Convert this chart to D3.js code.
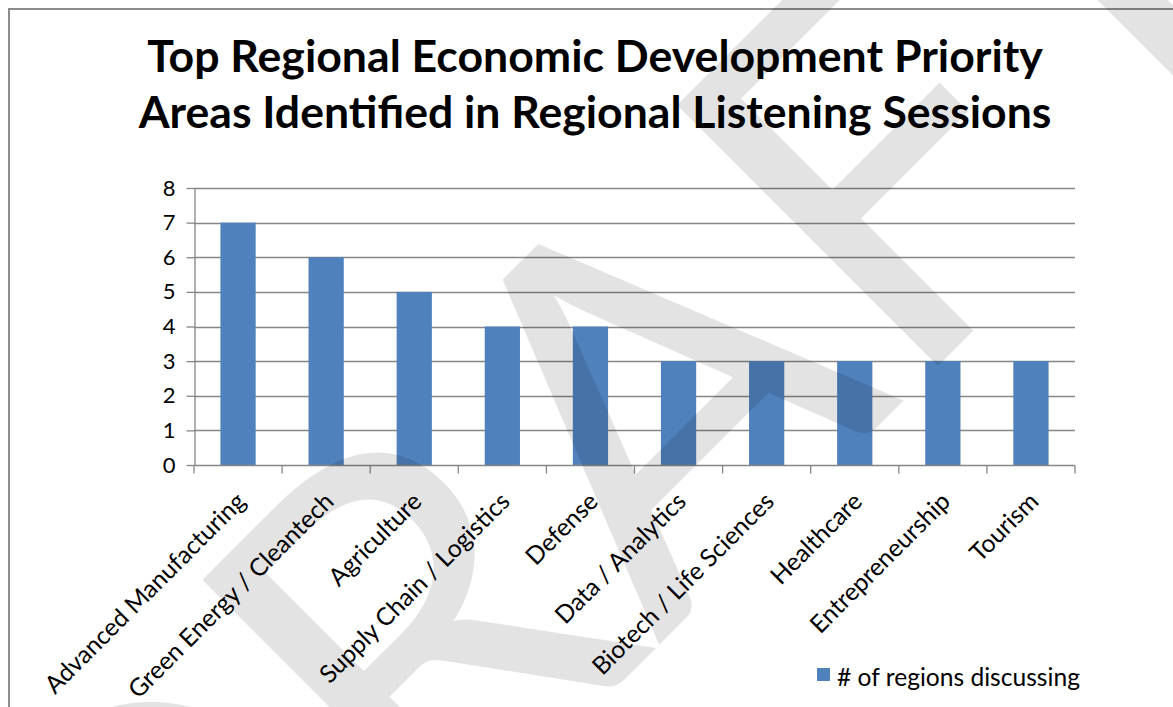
<!DOCTYPE html>
<html>
<head>
<meta charset="utf-8">
<script src="https://cdn.jsdelivr.net/npm/d3@7"></script>
<style>
  html, body { margin: 0; padding: 0; background: #fff; }
  svg { display: block; }
  text { font-family: Lato, "Open Sans", "Liberation Sans", sans-serif; }
</style>
</head>
<body>
<svg id="chart" width="1173" height="707"></svg>
<script>
// ---- data ----
const titleLines = ["Top Regional Economic Development Priority", "Areas Identified in Regional Listening Sessions"];
const categories = ["Advanced Manufacturing", "Green Energy / Cleantech", "Agriculture", "Supply Chain / Logistics",
  "Defense", "Data / Analytics", "Biotech / Life Sciences", "Healthcare", "Entrepreneurship", "Tourism"];
const values = [7, 6, 5, 4, 4, 3, 3, 3, 3, 3];
const yTicks = [0, 1, 2, 3, 4, 5, 6, 7, 8];
const seriesName = "# of regions discussing";
const watermark = "DRAFT";

// ---- layout ----
const W = 1173, H = 707;
const plot = { left: 194, right: 1075, top: 188, bottom: 465 };
const barColor = "#4f81bd";
const gridColor = "#868686";

const svg = d3.select("#chart");

// helper: fit font size so text width equals target
function fitWidth(sel, target) {
  const node = sel.node();
  const fs = parseFloat(sel.attr("font-size"));
  const w = node.getComputedTextLength();
  const nfs = fs * target / w;
  sel.attr("font-size", nfs);
  return nfs;
}

// frame
svg.append("line").attr("x1", 9).attr("x2", 9).attr("y1", 8).attr("y2", H)
  .attr("stroke", "#8c8c8c").attr("stroke-width", 2);
svg.append("line").attr("x1", 8).attr("x2", W).attr("y1", 9).attr("y2", 9)
  .attr("stroke", "#8c8c8c").attr("stroke-width", 2);

// title
const titleY = [72, 128], titleW = [896, 913];
titleLines.forEach((t, i) => {
  const s = svg.append("text").attr("x", 595).attr("y", titleY[i])
    .attr("text-anchor", "middle").attr("font-weight", "bold")
    .attr("font-size", 40).attr("fill", "#000").text(t);
  fitWidth(s, titleW[i]);
});

// scales
const x = d3.scaleBand().domain(categories).range([plot.left, plot.right])
  .paddingInner(0.6).paddingOuter(0.3);
const xSlot = d3.scaleBand().domain(categories).range([plot.left, plot.right]).padding(0);
const y = d3.scaleLinear().domain([0, 8]).range([plot.bottom, plot.top]);

// legend text first to determine body font size
const legText = svg.append("text").attr("x", 837).attr("y", 686)
  .attr("font-size", 22).attr("fill", "#000").text(seriesName);
const bodyFs = fitWidth(legText, 243);
svg.append("rect").attr("x", 817).attr("y", 668).attr("width", 13).attr("height", 13).attr("fill", barColor);

// gridlines
svg.append("g").selectAll("line").data(yTicks.filter(d => d > 0)).join("line")
  .attr("x1", plot.left).attr("x2", plot.right)
  .attr("y1", d => Math.round(y(d)) + 0.5).attr("y2", d => Math.round(y(d)) + 0.5)
  .attr("stroke", gridColor).attr("stroke-width", 1.3);

// y axis
const yAxis = svg.append("g").attr("transform", `translate(${plot.left + 0.5},0)`)
  .call(d3.axisLeft(y).tickValues(yTicks).tickSize(8).tickPadding(11).tickSizeOuter(0));
yAxis.select(".domain").attr("stroke", gridColor).attr("stroke-width", 1.3);
yAxis.selectAll(".tick line").attr("stroke", gridColor).attr("stroke-width", 1.3);
yAxis.selectAll(".tick text").attr("font-size", 22).attr("fill", "#000")
  .attr("font-family", 'Lato, "Open Sans", sans-serif');

// bars
svg.append("g").selectAll("rect").data(categories).join("rect")
  .attr("x", d => x(d)).attr("width", x.bandwidth())
  .attr("y", (d, i) => y(values[i])).attr("height", (d, i) => y(0) - y(values[i]))
  .attr("fill", barColor);

// x axis line and ticks
const xb = Math.round(plot.bottom) + 0.5;
svg.append("line").attr("x1", plot.left).attr("x2", plot.right).attr("y1", xb).attr("y2", xb)
  .attr("stroke", gridColor).attr("stroke-width", 1.3);
const bounds = categories.map(c => xSlot(c)).concat([xSlot(categories[categories.length - 1]) + xSlot.bandwidth()]);
svg.append("g").selectAll("line").data(bounds).join("line")
  .attr("x1", d => d).attr("x2", d => d).attr("y1", xb).attr("y2", xb + 8)
  .attr("stroke", gridColor).attr("stroke-width", 1.3);

// x labels
svg.append("g").selectAll("text").data(categories).join("text")
  .attr("transform", d => `translate(${x(d) + x.bandwidth() / 2 + 9},${503}) rotate(-45)`)
  .attr("text-anchor", "end").attr("font-size", bodyFs).attr("fill", "#000")
  .text(d => d);

// watermark
svg.append("text")
  .attr("transform", "translate(153,1151) rotate(-45)")
  .attr("font-family", '"Liberation Sans", Arial, sans-serif')
  .attr("font-size", 515).attr("fill", "#000").attr("fill-opacity", 0.11)
  .text(watermark);
</script>
</body>
</html>
